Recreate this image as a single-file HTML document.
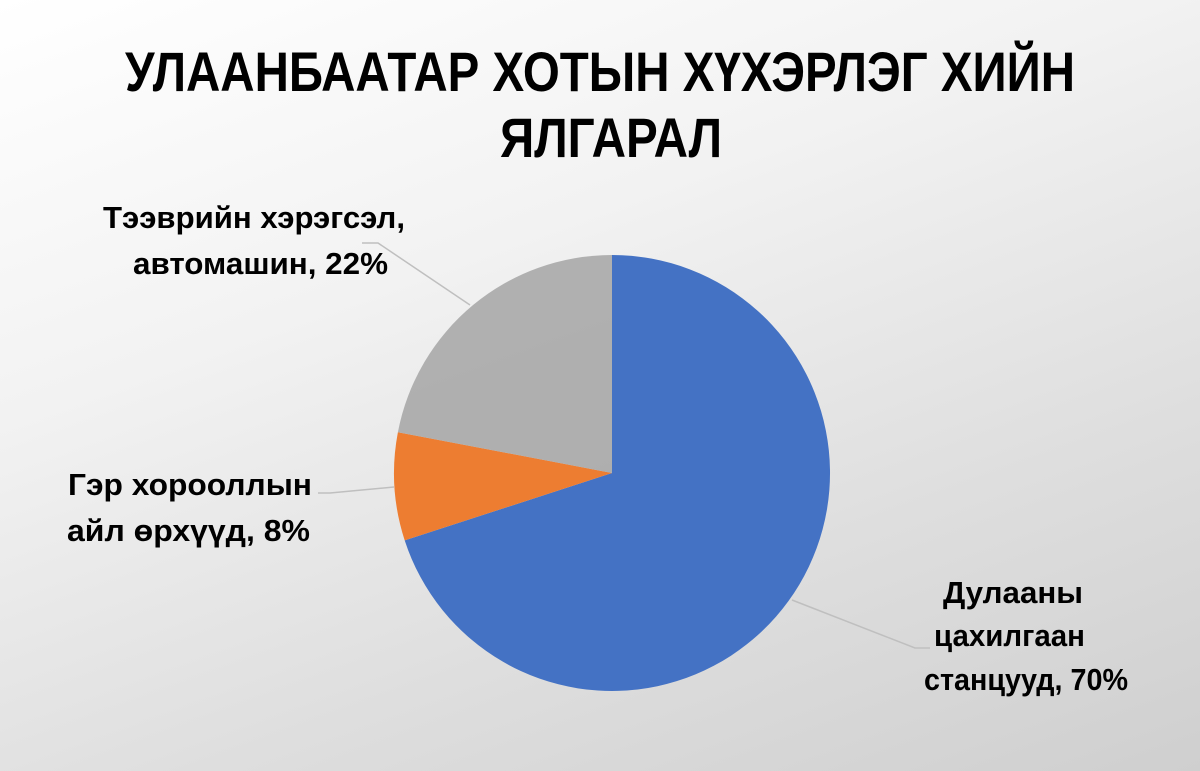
<!DOCTYPE html>
<html><head><meta charset="utf-8"><style>
html,body{margin:0;padding:0}
body{width:1200px;height:771px;overflow:hidden;background:linear-gradient(160deg,#ffffff 0%,#f2f2f2 35%,#dedede 70%,#cfcfcf 100%);font-family:"Liberation Sans",sans-serif}
</style></head><body>
<svg width="1200" height="771" viewBox="0 0 1200 771" xmlns="http://www.w3.org/2000/svg" style="position:absolute;left:0;top:0">
<g font-family="Liberation Sans, sans-serif" font-weight="bold" fill="#000">
<text x="125" y="91" font-size="56" textLength="950" lengthAdjust="spacingAndGlyphs">УЛААНБААТАР ХОТЫН ХҮХЭРЛЭГ ХИЙН</text>
<text x="500" y="157" font-size="56" textLength="222" lengthAdjust="spacingAndGlyphs">ЯЛГАРАЛ</text>
</g>
<path d="M612,473 L612,255 A218,218 0 1 1 404.7,540.4 Z" fill="#4472c4"/>
<path d="M612,473 L404.7,540.4 A218,218 0 0 1 397.9,432.2 Z" fill="#ed7d31"/>
<path d="M612,473 L397.9,432.2 A218,218 0 0 1 612,255 Z" fill="#a5a5a5" opacity="0.85"/>
<g stroke="#bfbfbf" stroke-width="1.5" fill="none">
<polyline points="470,305 378,243 362,243"/>
<polyline points="394,487 330,493 318,493"/>
<polyline points="792,600 915,648 930,648"/>
</g>
<g font-family="Liberation Sans, sans-serif" font-weight="bold" font-size="31" fill="#000">
<text x="103" y="228" textLength="302" lengthAdjust="spacingAndGlyphs">Тээврийн хэрэгсэл,</text>
<text x="133" y="274" textLength="255" lengthAdjust="spacingAndGlyphs">автомашин, 22%</text>
<text x="68" y="495" textLength="244" lengthAdjust="spacingAndGlyphs">Гэр хорооллын</text>
<text x="67" y="541" textLength="243" lengthAdjust="spacingAndGlyphs">айл өрхүүд, 8%</text>
<text x="943" y="603" textLength="140" lengthAdjust="spacingAndGlyphs">Дулааны</text>
<text x="934" y="646" textLength="151" lengthAdjust="spacingAndGlyphs">цахилгаан</text>
<text x="924" y="690" textLength="204" lengthAdjust="spacingAndGlyphs">станцууд, 70%</text>
</g>
</svg>
</body></html>
